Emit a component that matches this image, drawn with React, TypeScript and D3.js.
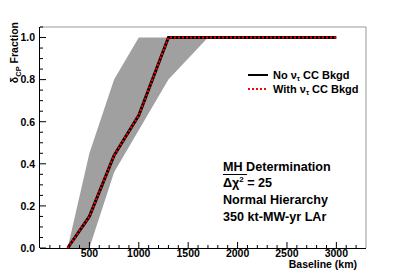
import React from 'react'
import * as d3 from 'd3'

// baseline (km) vs fraction of delta_CP values
const baselines = [280, 500, 750, 1000, 1300, 3000]
const fracNoTau = [0, 0.15, 0.44, 0.63, 1.0, 1.0]
const fracWithTau = [0, 0.15, 0.44, 0.63, 1.0, 1.0]

// gray band edges
const bandUpperX = [280, 500, 750, 1000, 3000]
const bandUpperY = [0, 0.45, 0.8, 1.0, 1.0]
const bandLowerX = [500, 750, 1300, 1700, 3000]
const bandLowerY = [0, 0.36, 0.8, 1.0, 1.0]

const xTicks = [500, 1000, 1500, 2000, 2500, 3000]
const yTicks = [0, 0.2, 0.4, 0.6, 0.8, 1.0]

const width = 407
const height = 276
const left = 40
const right = 366
const top = 27
const bottom = 248
const font = '"Liberation Sans", Arial, sans-serif'

function App() {
    const x = d3.scaleLinear().domain([0, 3300]).range([left, right])
    const y = d3.scaleLinear().domain([0, 1.05]).range([bottom, top])

    const band = d3.line<[number, number]>().x(d => x(d[0])).y(d => y(d[1]))
    const upper = bandUpperX.map((v, i) => [v, bandUpperY[i]] as [number, number])
    const lower = bandLowerX.map((v, i) => [v, bandLowerY[i]] as [number, number]).reverse()
    const bandPath = band([...upper, ...lower]) + 'Z'

    const line = d3.line<number>().x((d, i) => x(baselines[i])).y(d => y(d))

    const xMinor = d3.range(100, 3300, 100).filter(v => v % 500 !== 0)
    const yMinor = d3.range(0, 1.051, 0.05).filter(v => Math.abs(v * 5 - Math.round(v * 5)) > 1e-6)

    return (
        <div style={{ position: 'fixed', left: 0, top: 0 }}>
            <svg width={width} height={height} style={{ display: 'block' }} fontFamily={font} fontWeight="bold">
                <rect width={width} height={height} fill="white" />
                <path d={bandPath} fill="#a0a0a0" />

                {/* frame */}
                <line x1={left} x2={right} y1={top} y2={top} stroke="#999" />
                <line x1={right} x2={right} y1={top} y2={bottom} stroke="#999" />

                {/* x axis */}
                <line x1={left} x2={right} y1={bottom + 0.5} y2={bottom + 0.5} stroke="black" />
                {xMinor.map(v => (
                    <line key={v} x1={x(v)} x2={x(v)} y1={bottom} y2={bottom - 3} stroke="black" />
                ))}
                {xTicks.map(v => (
                    <g key={v}>
                        <line x1={x(v)} x2={x(v)} y1={bottom} y2={bottom - 6} stroke="black" />
                        <text x={x(v)} y={257} fontSize={10.5} textAnchor="middle">{v}</text>
                    </g>
                ))}
                <text x={357} y={268} fontSize={10.5} textAnchor="end">Baseline (km)</text>

                {/* y axis */}
                <line x1={left - 0.5} x2={left - 0.5} y1={top} y2={bottom} stroke="black" />
                {yMinor.map(v => (
                    <line key={v} x1={left} x2={left + 3} y1={y(v)} y2={y(v)} stroke="black" />
                ))}
                {yTicks.map(v => (
                    <g key={v}>
                        <line x1={left} x2={left + 6} y1={y(v)} y2={y(v)} stroke="black" />
                        <text x={35} y={y(v) + 3.8} fontSize={10.5} textAnchor="end">{v.toFixed(1)}</text>
                    </g>
                ))}
                <text transform="translate(18,22) rotate(-90)" fontSize={10.5} textAnchor="end">
                    δ<tspan fontSize={7.5} dy={3}>CP</tspan><tspan dy={-3}> Fraction</tspan>
                </text>

                {/* curves */}
                <path d={line(fracNoTau) ?? ''} fill="none" stroke="black" strokeWidth={3} />
                <path d={line(fracWithTau) ?? ''} fill="none" stroke="red" strokeWidth={2} strokeDasharray="2,2" />

                {/* legend */}
                <line x1={248} x2={268} y1={75} y2={75} stroke="black" strokeWidth={2} />
                <text x={273} y={79} fontSize={11}>
                    No ν<tspan fontSize={7} dy={2}>τ</tspan><tspan dy={-2}> CC Bkgd</tspan>
                </text>
                <line x1={248} x2={268} y1={89} y2={89} stroke="red" strokeWidth={2} strokeDasharray="2,2" />
                <text x={273} y={93} fontSize={11}>
                    With ν<tspan fontSize={7} dy={2}>τ</tspan><tspan dy={-2}> CC Bkgd</tspan>
                </text>

                {/* annotation */}
                <text x={223} y={171} fontSize={12.6}>MH Determination</text>
                <line x1={223} x2={247} y1={174.5} y2={174.5} stroke="black" strokeWidth={1} />
                <text x={223} y={187} fontSize={12.6}>
                    Δχ<tspan fontSize={8} dy={-5}>2</tspan><tspan dy={5}> = 25</tspan>
                </text>
                <text x={223} y={204} fontSize={12.6}>Normal Hierarchy</text>
                <text x={223} y={221} fontSize={12.6}>350 kt-MW-yr LAr</text>
            </svg>
        </div>
    )
}

export default App
